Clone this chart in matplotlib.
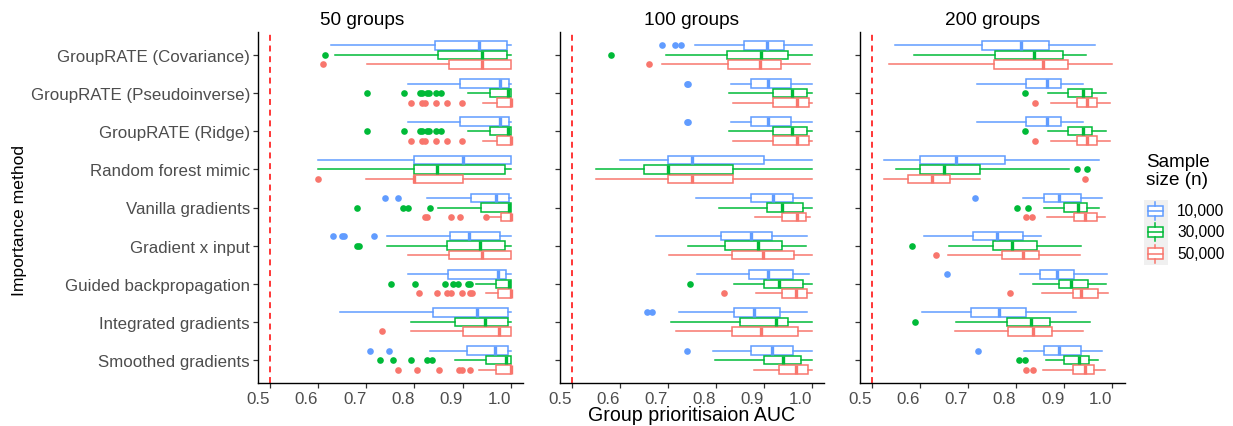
import matplotlib
matplotlib.use("Agg")
import matplotlib.pyplot as plt
from matplotlib.patches import Rectangle

plt.rcParams["font.family"] = ["Liberation Sans", "DejaVu Sans"]

# ---------------------------------------------------------------- data
methods = [
    "GroupRATE (Covariance)",
    "GroupRATE (Pseudoinverse)",
    "GroupRATE (Ridge)",
    "Random forest mimic",
    "Vanilla gradients",
    "Gradient x input",
    "Guided backpropagation",
    "Integrated gradients",
    "Smoothed gradients",
]
panel_titles = ["50 groups", "100 groups", "200 groups"]
size_labels = ["10,000", "30,000", "50,000"]
size_colors = ["#619CFF", "#00BA38", "#F8766D"]
baseline_auc = 0.5
x_ticks = [0.5, 0.6, 0.7, 0.8, 0.9, 1.0]

# Box statistics, indexed [sample size][method]
# 50 groups
g50_low = [
    [0.626, 0.787, 0.787, 0.600, 0.827, 0.743, 0.787, 0.645, 0.832],
    [0.635, 0.912, 0.912, 0.600, 0.849, 0.743, 0.927, 0.792, 0.885],
    [0.702, 0.943, 0.943, 0.700, 0.955, 0.787, 0.948, 0.792, 0.934],
]
g50_q1 = [
    [0.842, 0.895, 0.895, 0.800, 0.918, 0.873, 0.870, 0.839, 0.909],
    [0.849, 0.957, 0.957, 0.800, 0.939, 0.867, 0.970, 0.885, 0.949],
    [0.871, 0.971, 0.971, 0.800, 0.979, 0.871, 0.974, 0.900, 0.970],
]
g50_med = [
    [0.933, 0.978, 0.978, 0.900, 0.970, 0.913, 0.974, 0.929, 0.968],
    [0.940, 0.994, 0.994, 0.846, 0.997, 0.936, 0.997, 0.947, 0.990],
    [0.940, 1.000, 1.000, 0.800, 1.000, 0.940, 1.000, 0.976, 1.000],
]
g50_q3 = [
    [0.992, 0.996, 0.996, 1.000, 0.996, 0.977, 0.990, 0.994, 0.995],
    [0.992, 1.000, 1.000, 0.988, 1.000, 0.988, 1.000, 0.994, 1.000],
    [1.000, 1.000, 1.000, 0.900, 1.000, 1.000, 1.000, 1.000, 1.000],
]
g50_high = [
    [1.000, 1.000, 1.000, 1.000, 1.000, 1.000, 1.000, 1.000, 1.000],
    [1.000, 1.000, 1.000, 1.000, 1.000, 1.000, 1.000, 1.000, 1.000],
    [1.000, 1.000, 1.000, 1.000, 1.000, 1.000, 1.000, 1.000, 1.000],
]
g50_out = [
    [[], [], [], [], [0.738, 0.765], [0.631, 0.650, 0.654, 0.716], [], [],
     [0.707, 0.747]],
    [[0.614], [0.702, 0.778, 0.812, 0.816, 0.827, 0.830, 0.844, 0.855],
     [0.702, 0.778, 0.812, 0.816, 0.827, 0.830, 0.844, 0.855], [],
     [0.680, 0.776, 0.787, 0.832], [0.680, 0.684],
     [0.751, 0.801, 0.863, 0.880, 0.890, 0.911, 0.916], [],
     [0.729, 0.756, 0.792, 0.827, 0.836]],
    [[0.609], [0.792, 0.816, 0.822, 0.844, 0.867, 0.898],
     [0.792, 0.816, 0.822, 0.844, 0.867, 0.898], [0.600],
     [0.822, 0.827, 0.876, 0.894, 0.948], [],
     [0.810, 0.846, 0.868, 0.875, 0.898, 0.916, 0.920], [0.733],
     [0.765, 0.806, 0.850, 0.893, 0.898, 0.916]],
]

# 100 groups
g100_low = [
    [0.757, 0.831, 0.831, 0.600, 0.759, 0.676, 0.761, 0.723, 0.794],
    [0.696, 0.827, 0.827, 0.550, 0.806, 0.742, 0.838, 0.707, 0.798],
    [0.687, 0.836, 0.836, 0.550, 0.881, 0.703, 0.883, 0.717, 0.878],
]
g100_q1 = [
    [0.859, 0.872, 0.872, 0.700, 0.872, 0.811, 0.869, 0.838, 0.872],
    [0.823, 0.919, 0.919, 0.650, 0.905, 0.818, 0.899, 0.849, 0.899],
    [0.826, 0.919, 0.919, 0.700, 0.937, 0.834, 0.937, 0.833, 0.930],
]
g100_med = [
    [0.906, 0.909, 0.909, 0.750, 0.919, 0.872, 0.909, 0.880, 0.916],
    [0.894, 0.957, 0.957, 0.700, 0.938, 0.887, 0.930, 0.924, 0.940],
    [0.892, 0.969, 0.969, 0.750, 0.968, 0.897, 0.966, 0.894, 0.966],
]
g100_q3 = [
    [0.942, 0.955, 0.955, 0.900, 0.960, 0.917, 0.959, 0.933, 0.959],
    [0.950, 0.989, 0.989, 0.836, 0.981, 0.937, 0.980, 0.950, 0.977],
    [0.935, 0.994, 0.994, 0.836, 0.987, 0.963, 0.989, 0.970, 0.991],
]
g100_high = [
    [1.000, 1.000, 1.000, 1.000, 1.000, 0.989, 0.993, 0.990, 1.000],
    [1.000, 1.000, 1.000, 1.000, 1.000, 0.986, 1.000, 1.000, 1.000],
    [0.995, 1.000, 1.000, 1.000, 0.995, 1.000, 1.000, 1.000, 1.000],
]
g100_out = [
    [[0.688, 0.714, 0.728], [0.740, 0.742], [0.740, 0.742], [], [], [], [],
     [0.657, 0.668], [0.739]],
    [[0.582], [], [], [], [], [], [0.747], [], []],
    [[0.661], [], [], [], [], [], [0.816], [], []],
]

# 200 groups
g200_low = [
    [0.548, 0.719, 0.719, 0.526, 0.814, 0.608, 0.807, 0.605, 0.816],
    [0.587, 0.867, 0.867, 0.551, 0.858, 0.661, 0.835, 0.676, 0.862],
    [0.536, 0.873, 0.873, 0.526, 0.865, 0.658, 0.853, 0.673, 0.855],
]
g200_q1 = [
    [0.730, 0.821, 0.821, 0.600, 0.857, 0.710, 0.850, 0.706, 0.858],
    [0.755, 0.907, 0.907, 0.600, 0.900, 0.752, 0.889, 0.780, 0.899],
    [0.753, 0.926, 0.926, 0.575, 0.920, 0.771, 0.918, 0.782, 0.917],
]
g200_med = [
    [0.810, 0.864, 0.864, 0.675, 0.889, 0.760, 0.885, 0.764, 0.888],
    [0.838, 0.938, 0.938, 0.651, 0.929, 0.791, 0.914, 0.830, 0.930],
    [0.856, 0.947, 0.947, 0.625, 0.942, 0.814, 0.934, 0.835, 0.942],
]
g200_q3 = [
    [0.869, 0.893, 0.893, 0.776, 0.934, 0.815, 0.920, 0.821, 0.934],
    [0.898, 0.958, 0.958, 0.725, 0.947, 0.843, 0.949, 0.871, 0.951],
    [0.907, 0.967, 0.967, 0.663, 0.967, 0.848, 0.970, 0.875, 0.961],
]
g200_high = [
    [0.963, 0.938, 0.938, 0.971, 0.978, 0.851, 0.988, 0.925, 0.979],
    [0.945, 0.986, 0.986, 0.910, 0.972, 0.934, 0.987, 0.954, 0.969],
    [0.999, 0.994, 0.994, 0.725, 0.985, 0.933, 0.991, 0.938, 0.985],
]
g200_out = [
    [[], [], [], [], [0.715], [], [0.656], [], [0.720]],
    [[], [0.818], [0.818], [0.927, 0.947], [0.802, 0.824], [0.584], [],
     [0.589], [0.805, 0.819]],
    [[], [0.839], [0.839], [0.943], [0.821, 0.832], [0.633], [0.788], [],
     [0.820, 0.834]],
]

panels = [
    (g50_low, g50_q1, g50_med, g50_q3, g50_high, g50_out),
    (g100_low, g100_q1, g100_med, g100_q3, g100_high, g100_out),
    (g200_low, g200_q1, g200_med, g200_q3, g200_high, g200_out),
]

# ---------------------------------------------------------------- layout
W, H = 1233, 427
fig = plt.figure(figsize=(W / 100, H / 100), dpi=100)

panel_left_px = [258.0, 559.5, 859.7]
panel_w_px = 264.8
panel_top_px, panel_bottom_px = 33.0, 384.0
# horizontal centre of each panel title, as a fraction of the panel width
title_x = [0.393, 0.5, 0.5]

dodge = [0.25, 0.0, -0.25]
box_height = 0.225
n_methods = len(methods)
lw = 1.1
text_grey = "#4D4D4D"

for p, (low, q1, med, q3, high, out) in enumerate(panels):
    ax = fig.add_axes([
        panel_left_px[p] / W,
        1 - panel_bottom_px / H,
        panel_w_px / W,
        (panel_bottom_px - panel_top_px) / H,
    ])
    ax.axvline(baseline_auc, color="#FF0000", lw=1.1, ls=(0, (3.9, 3.1)),
               zorder=1)
    for s, color in enumerate(size_colors):
        stats = []
        for m in range(n_methods):
            stats.append(dict(whislo=low[s][m], q1=q1[s][m], med=med[s][m],
                              q3=q3[s][m], whishi=high[s][m],
                              fliers=out[s][m]))
        positions = [n_methods - m + dodge[s] for m in range(n_methods)]
        ax.bxp(
            stats, positions=positions, widths=box_height,
            orientation="horizontal", patch_artist=True, showcaps=False,
            manage_ticks=False,
            boxprops=dict(facecolor="white", edgecolor=color, linewidth=lw),
            whiskerprops=dict(color=color, linewidth=lw),
            medianprops=dict(color=color, linewidth=2.4),
            flierprops=dict(marker="o", markerfacecolor=color,
                            markeredgecolor="none", markersize=4.8),
            zorder=2,
        )

    ax.set_xlim(0.475, 1.025)
    ax.set_ylim(0.4, n_methods + 0.6)
    ax.set_xticks(x_ticks)
    ax.set_xticklabels([f"{t:.1f}" for t in x_ticks])
    for lab in ax.get_xticklabels():
        lab.set_horizontalalignment("right")
    ax.set_yticks([n_methods - m for m in range(n_methods)])
    if p == 0:
        ax.set_yticklabels(methods)
    else:
        ax.set_yticklabels([])
    ax.tick_params(axis="both", length=3.5, width=0.9, color="#333333",
                   labelsize=12.2, labelcolor=text_grey)
    ax.tick_params(axis="x", pad=2.0)
    ax.tick_params(axis="y", pad=2.2)
    for side in ("top", "right"):
        ax.spines[side].set_visible(False)
    for side in ("left", "bottom"):
        ax.spines[side].set_linewidth(1.0)
        ax.spines[side].set_color("black")
    ax.set_facecolor("none")
    ax.set_title(panel_titles[p], fontsize=13.7, pad=6, color="black",
                 x=title_x[p])

fig.text(20 / W, 1 - 221 / H, "Importance method", rotation=90,
         ha="center", va="center", fontsize=12.6)
fig.text(692 / W, 1 - 416 / H, "Group prioritisaion AUC",
         ha="center", va="center", fontsize=14.1)

# ---------------------------------------------------------------- legend
leg = fig.add_axes([0, 0, 1, 1])
leg.set_xlim(0, W)
leg.set_ylim(H, 0)
leg.axis("off")
leg.patch.set_alpha(0)

leg.text(1146, 154, "Sample\nsize (n)", ha="left", va="top",
         fontsize=13.6, linespacing=1.05)
leg.add_patch(Rectangle((1143.5, 201), 24.5, 65, facecolor="#F0F0F0",
                        edgecolor="none"))
key_cy = [212.0, 233.0, 254.5]
for cy, color, label in zip(key_cy, size_colors, size_labels):
    leg.add_patch(Rectangle((1148, cy - 5.3), 14.5, 10.6, facecolor="white",
                            edgecolor=color, linewidth=lw))
    leg.plot([1148, 1162.5], [cy, cy], color=color, lw=lw)
    leg.plot([1155.25, 1155.25], [cy - 9, cy - 5.3], color=color, lw=lw)
    leg.plot([1155.25, 1155.25], [cy + 5.3, cy + 9], color=color, lw=lw)
    leg.text(1177, cy, label, ha="left", va="center", fontsize=11.2)

fig.savefig("out.png", dpi=100)
